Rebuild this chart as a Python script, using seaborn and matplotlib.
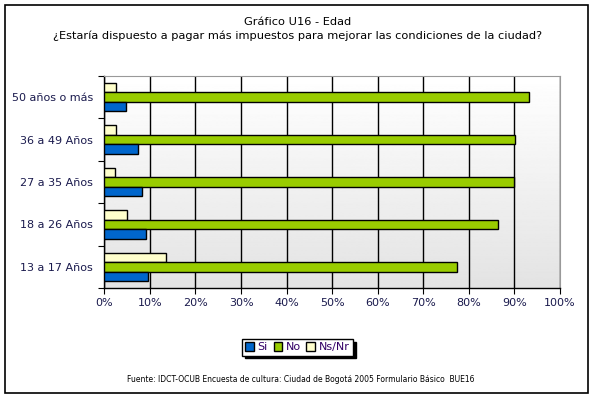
import numpy as np
import pandas as pd
import matplotlib
matplotlib.use("Agg")
import matplotlib.pyplot as plt
import seaborn as sns
from matplotlib.patches import Patch, Rectangle

edades = ["50 años o más", "36 a 49 Años", "27 a 35 Años", "18 a 26 Años", "13 a 17 Años"]
si = [4.8, 7.5, 8.2, 9.1, 9.6]
no = [93.1, 90.1, 89.8, 86.5, 77.3]
nsnr = [2.6, 2.6, 2.4, 5.0, 13.6]

respuestas = ["Ns/Nr", "No", "Si"]
colores = {"Si": "#0066CC", "No": "#99CC00", "Ns/Nr": "#FFFFCC"}

df = pd.DataFrame({"edad": edades * 3,
                   "respuesta": ["Si"] * 5 + ["No"] * 5 + ["Ns/Nr"] * 5,
                   "pct": si + no + nsnr})

sns.set_style("white")
plt.rcParams["font.family"] = ["DejaVu Sans"]
plt.rcParams["text.color"] = "black"
plt.rcParams["xtick.color"] = "black"
plt.rcParams["ytick.color"] = "black"

fig = plt.figure(figsize=(5.95, 3.99), dpi=100)
ax = fig.add_axes([0.1753, 0.2782, 0.9412 - 0.1753, 0.8095 - 0.2782])

# fondo degradado del area de trazado
grad = np.linspace(1.0, 0.89, 256).reshape(-1, 1)
ax.imshow(grad, extent=[0, 100, 4.5, -0.5], aspect="auto", cmap="gray",
          vmin=0, vmax=1, zorder=0)

sns.barplot(data=df, x="pct", y="edad", hue="respuesta", order=edades,
            hue_order=respuestas, palette=colores, orient="h", width=0.67,
            edgecolor="black", linewidth=1, saturation=1, ax=ax, zorder=3)

ax.set_xlim(0, 100)
ax.set_ylim(4.5, -0.5)
ax.set_xticks(range(0, 101, 10))
ax.set_xticklabels([f"{v}%" for v in range(0, 101, 10)], fontsize=8, color="#1a1a4d")
ax.tick_params(axis="x", length=4, color="black", direction="out", bottom=True)
ax.set_yticks([-0.5, 0.5, 1.5, 2.5, 3.5, 4.5])
ax.set_yticklabels([""] * 6)
ax.tick_params(axis="y", length=4, color="black", direction="out", left=True)
ax.set_yticks(range(5), minor=True)
ax.set_yticklabels(edades, minor=True, color="#1a1a4d")
ax.tick_params(axis="y", which="minor", length=0, pad=8, labelsize=8)
ax.set_xlabel("")
ax.set_ylabel("")
ax.xaxis.grid(True, color="black", linewidth=1, zorder=1)
ax.set_axisbelow(True)
for s in ["top", "right"]:
    ax.spines[s].set_color("#999999")
for s in ["left", "bottom"]:
    ax.spines[s].set_color("black")
    ax.spines[s].set_linewidth(1)
ax.legend_.remove()

handles = [Patch(facecolor=colores[r], edgecolor="black", label=r) for r in ["Si", "No", "Ns/Nr"]]
leg = fig.legend(handles=handles, loc="center", bbox_to_anchor=(0.5, 0.13), ncol=3,
                 fontsize=8, frameon=True, fancybox=False,
                 shadow={"color": "black", "alpha": 1},
                 handlelength=0.8, handleheight=0.8, handletextpad=0.3,
                 columnspacing=0.5, borderpad=0.3)
leg.get_frame().set_edgecolor("black")
for t in leg.get_texts():
    t.set_color("#330066")

fig.text(0.5, 0.945, "Gráfico U16 - Edad", ha="center", va="center", fontsize=8.2)
fig.text(0.5, 0.91, "¿Estaría dispuesto a pagar más impuestos para mejorar las condiciones de la ciudad?",
         ha="center", va="center", fontsize=8.2)
fig.text(0.505, 0.048, "Fuente: IDCT-OCUB Encuesta de cultura: Ciudad de Bogotá 2005 Formulario Básico  BUE16",
         ha="center", va="center", fontsize=5.5)

fig.patches.append(Rectangle((0.008, 0.015), 0.98, 0.972, transform=fig.transFigure,
                             fill=False, edgecolor="black", linewidth=1.2))

fig.savefig("out.png", dpi=100)
